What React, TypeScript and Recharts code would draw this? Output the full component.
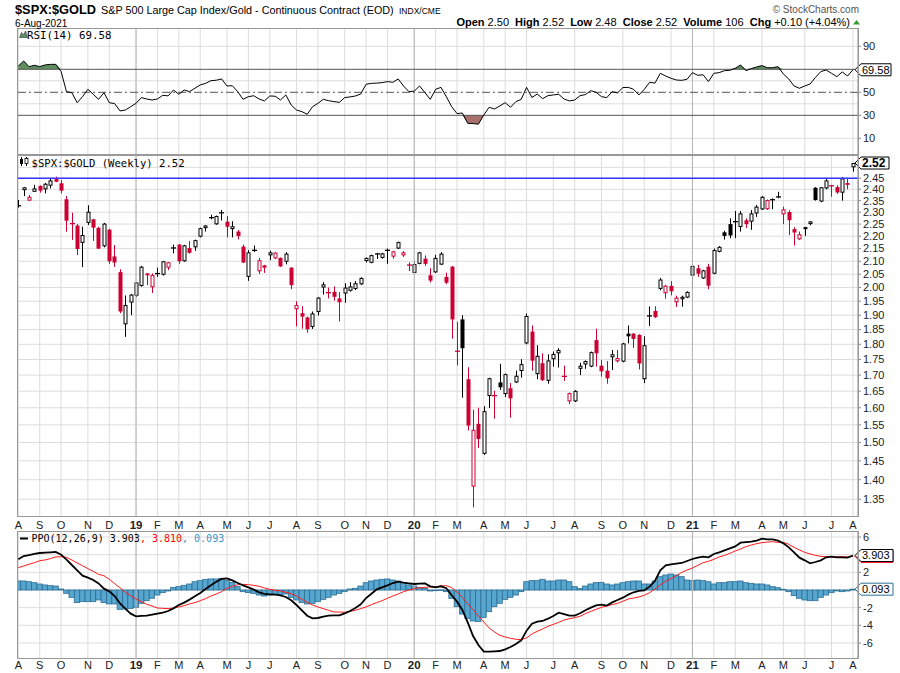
import React from 'react';
import { ComposedChart, Bar, Line, Area, XAxis, YAxis, ReferenceLine, CartesianGrid } from 'recharts';

const FONT = '"Liberation Sans", Arial, sans-serif';
const MONO = '"DejaVu Sans Mono", monospace';

// ---- weekly candles (Aug 2018 - Aug 2021) ----
const OPEN = [
  2.326, 2.396, 2.350, 2.389, 2.415, 2.400, 2.416, 2.446, 2.427, 2.356,
  2.255, 2.244, 2.173, 2.255, 2.270, 2.234, 2.159, 2.227, 2.119, 2.058,
  1.868, 1.945, 1.970, 2.006, 2.046, 2.001, 2.050, 2.048, 2.075, 2.150,
  2.166, 2.100, 2.152, 2.155, 2.198, 2.233, 2.275, 2.249, 2.295, 2.260,
  2.229, 2.219, 2.158, 2.040, 2.140, 2.061, 2.084, 2.123, 2.111, 2.113,
  2.098, 2.075, 1.921, 1.907, 1.892, 1.859, 1.911, 2.000, 1.982, 1.984,
  1.960, 1.978, 1.988, 1.995, 2.012, 2.101, 2.094, 2.131, 2.113, 2.140,
  2.118, 2.150, 2.123, 2.086, 2.055, 2.090, 2.110, 2.046, 2.057, 2.087,
  2.040, 2.079, 1.778, 1.885, 1.687, 1.382, 1.553, 1.469, 1.635, 1.638,
  1.677, 1.641, 1.659, 1.677, 1.713, 1.803, 1.843, 1.703, 1.738, 1.682,
  1.751, 1.770, 1.697, 1.619, 1.619, 1.720, 1.734, 1.727, 1.814, 1.730,
  1.714, 1.757, 1.744, 1.743, 1.836, 1.836, 1.832, 1.687, 1.895, 1.915,
  1.995, 1.979, 2.006, 1.946, 1.957, 1.963, 2.045, 2.073, 2.034, 2.079,
  2.052, 2.137, 2.216, 2.250, 2.258, 2.238, 2.266, 2.260, 2.295, 2.312,
  2.313, 2.353, 2.370, 2.291, 2.301, 2.229, 2.187, 2.229, 2.250, 2.407,
  2.346, 2.404, 2.417, 2.410, 2.385, 2.428, 2.500,
];
const HIGH = [
  2.353, 2.410, 2.375, 2.420, 2.418, 2.428, 2.449, 2.457, 2.442, 2.370,
  2.298, 2.250, 2.239, 2.330, 2.272, 2.239, 2.255, 2.230, 2.164, 2.069,
  1.971, 1.976, 2.020, 2.082, 2.055, 2.053, 2.075, 2.100, 2.097, 2.166,
  2.168, 2.165, 2.180, 2.186, 2.235, 2.246, 2.289, 2.286, 2.310, 2.284,
  2.262, 2.225, 2.166, 2.144, 2.162, 2.113, 2.086, 2.142, 2.136, 2.115,
  2.136, 2.077, 1.950, 1.932, 1.895, 1.913, 1.965, 2.020, 2.000, 2.004,
  1.983, 2.016, 2.020, 2.024, 2.038, 2.115, 2.126, 2.133, 2.133, 2.150,
  2.141, 2.178, 2.140, 2.096, 2.101, 2.137, 2.123, 2.073, 2.125, 2.136,
  2.056, 2.082, 1.877, 1.900, 1.725, 1.594, 1.600, 1.605, 1.692, 1.651,
  1.736, 1.705, 1.675, 1.714, 1.751, 1.906, 1.864, 1.797, 1.770, 1.767,
  1.776, 1.787, 1.730, 1.646, 1.653, 1.739, 1.747, 1.776, 1.853, 1.748,
  1.745, 1.781, 1.781, 1.805, 1.864, 1.838, 1.834, 1.827, 1.931, 1.932,
  2.036, 2.010, 2.024, 1.970, 1.970, 1.986, 2.089, 2.086, 2.067, 2.090,
  2.150, 2.160, 2.222, 2.274, 2.305, 2.305, 2.274, 2.309, 2.331, 2.370,
  2.355, 2.360, 2.389, 2.324, 2.309, 2.237, 2.219, 2.239, 2.263, 2.410,
  2.410, 2.447, 2.420, 2.418, 2.455, 2.447, 2.520,
];
const LOW = [
  2.320, 2.370, 2.350, 2.389, 2.385, 2.382, 2.404, 2.432, 2.382, 2.218,
  2.185, 2.124, 2.077, 2.246, 2.181, 2.148, 2.155, 2.090, 2.078, 1.907,
  1.825, 1.900, 1.965, 2.003, 2.009, 1.980, 2.040, 2.045, 2.066, 2.131,
  2.090, 2.098, 2.130, 2.141, 2.195, 2.219, 2.270, 2.247, 2.265, 2.195,
  2.195, 2.187, 2.093, 2.025, 2.136, 2.051, 2.055, 2.104, 2.109, 2.078,
  2.088, 1.994, 1.861, 1.853, 1.839, 1.852, 1.899, 1.974, 1.960, 1.952,
  1.878, 1.944, 1.985, 1.991, 2.010, 2.095, 2.092, 2.109, 2.110, 2.090,
  2.110, 2.148, 2.117, 2.062, 2.053, 2.088, 2.082, 2.019, 2.055, 2.085,
  2.013, 1.819, 1.731, 1.630, 1.534, 1.330, 1.485, 1.466, 1.599, 1.568,
  1.654, 1.632, 1.571, 1.675, 1.692, 1.800, 1.714, 1.687, 1.682, 1.673,
  1.727, 1.724, 1.682, 1.611, 1.617, 1.700, 1.720, 1.725, 1.727, 1.695,
  1.673, 1.716, 1.740, 1.741, 1.803, 1.788, 1.718, 1.675, 1.862, 1.890,
  1.990, 1.959, 1.971, 1.929, 1.930, 1.961, 1.993, 2.040, 2.032, 1.994,
  2.050, 2.135, 2.186, 2.192, 2.192, 2.219, 2.234, 2.226, 2.280, 2.310,
  2.310, 2.313, 2.360, 2.250, 2.205, 2.162, 2.185, 2.201, 2.245, 2.350,
  2.343, 2.400, 2.367, 2.380, 2.350, 2.400, 2.480,
];
const CLOSE = [
  2.330, 2.409, 2.367, 2.404, 2.394, 2.425, 2.440, 2.434, 2.394, 2.264,
  2.249, 2.148, 2.205, 2.302, 2.235, 2.150, 2.252, 2.100, 2.095, 1.913,
  1.936, 1.974, 2.019, 2.079, 2.053, 2.047, 2.055, 2.100, 2.096, 2.155,
  2.100, 2.163, 2.133, 2.184, 2.233, 2.244, 2.279, 2.284, 2.300, 2.239,
  2.241, 2.201, 2.095, 2.135, 2.146, 2.104, 2.075, 2.135, 2.134, 2.080,
  2.130, 2.009, 1.936, 1.895, 1.851, 1.906, 1.963, 2.012, 1.980, 1.966,
  1.946, 2.000, 2.004, 2.016, 2.036, 2.113, 2.124, 2.126, 2.131, 2.146,
  2.139, 2.176, 2.135, 2.084, 2.089, 2.135, 2.090, 2.026, 2.113, 2.130,
  2.018, 1.885, 1.776, 1.787, 1.548, 1.536, 1.510, 1.590, 1.690, 1.635,
  1.662, 1.703, 1.628, 1.698, 1.735, 1.897, 1.746, 1.762, 1.684, 1.747,
  1.768, 1.781, 1.695, 1.644, 1.651, 1.730, 1.745, 1.774, 1.770, 1.712,
  1.690, 1.767, 1.755, 1.803, 1.827, 1.818, 1.737, 1.797, 1.900, 1.893,
  2.030, 2.007, 1.986, 1.963, 1.966, 1.984, 2.082, 2.052, 2.065, 2.007,
  2.144, 2.157, 2.201, 2.203, 2.262, 2.295, 2.250, 2.295, 2.324, 2.367,
  2.353, 2.355, 2.363, 2.312, 2.266, 2.215, 2.208, 2.237, 2.261, 2.353,
  2.409, 2.440, 2.414, 2.386, 2.449, 2.420, 2.520,
];

// ---- RSI(14) ----
const RSI = [
  72.9, 77.2, 72.3, 73.5, 72.3, 73.8, 74.3, 74.3, 68.0, 50.6,
  49.7, 41.0, 46.2, 52.6, 48.3, 43.9, 49.7, 41.0, 40.2, 33.8,
  34.6, 37.5, 40.4, 45.4, 44.2, 43.3, 44.2, 47.4, 46.9, 52.0,
  48.3, 52.0, 50.6, 53.5, 56.4, 57.8, 60.1, 60.5, 61.6, 55.5,
  55.7, 50.6, 43.9, 46.2, 47.0, 44.2, 42.5, 46.8, 46.6, 43.3,
  47.7, 39.0, 34.6, 33.2, 30.9, 37.5, 40.4, 43.9, 42.7, 41.9,
  41.3, 45.4, 46.0, 46.8, 48.5, 57.0, 57.8, 58.0, 58.4, 59.3,
  58.7, 61.6, 55.5, 50.6, 51.0, 55.5, 49.7, 43.9, 52.6, 54.3,
  46.2, 37.5, 31.5, 32.0, 23.0, 22.8, 22.3, 30.3, 37.0, 35.5,
  38.1, 41.0, 37.0, 41.9, 43.9, 54.3, 45.5, 48.5, 44.5, 47.1,
  47.7, 48.3, 44.2, 42.5, 43.3, 47.1, 48.0, 51.4, 50.0, 46.2,
  45.4, 50.6, 49.5, 54.1, 54.3, 52.6, 47.7, 52.6, 58.7, 58.0,
  66.5, 64.2, 62.2, 60.7, 60.4, 61.3, 67.1, 64.8, 65.2, 59.3,
  66.5, 67.1, 68.8, 69.1, 70.9, 73.8, 68.8, 70.6, 72.0, 73.2,
  71.4, 71.4, 72.3, 65.9, 61.6, 55.5, 53.5, 55.5, 57.2, 63.0,
  68.0, 69.4, 66.5, 63.6, 67.7, 64.2, 69.58,
];

// ---- PPO(12,26,9) ----
const PPO = [
  3.47, 3.85, 3.96, 4.08, 4.19, 4.23, 4.26, 4.30, 4.00, 3.43,
  2.83, 2.23, 1.62, 1.40, 1.13, 0.75, 0.15, -0.15, -0.68, -1.51,
  -2.11, -2.68, -2.98, -2.94, -2.91, -2.79, -2.68, -2.57, -2.38, -2.08,
  -1.70, -1.43, -1.09, -0.72, -0.34, 0.11, 0.53, 0.94, 1.25, 1.32,
  1.09, 0.79, 0.53, 0.30, 0.04, -0.26, -0.45, -0.49, -0.53, -0.60,
  -0.79, -1.17, -1.70, -2.30, -2.91, -3.21, -3.17, -3.02, -2.91, -2.87,
  -2.87, -2.64, -2.38, -2.04, -1.62, -0.91, -0.42, 0.08, 0.30, 0.53,
  0.79, 0.94, 0.83, 0.75, 0.68, 0.72, 0.75, 0.42, 0.30, 0.42,
  0.20, -0.60, -1.32, -2.26, -3.66, -5.21, -6.23, -6.98, -6.98, -6.94,
  -6.91, -6.72, -6.45, -6.11, -5.70, -4.60, -3.81, -3.58, -3.51, -3.25,
  -2.94, -2.57, -2.72, -2.91, -2.91, -2.64, -2.30, -2.00, -1.74, -1.66,
  -1.77, -1.40, -1.13, -0.87, -0.53, -0.26, -0.11, -0.04, 0.38, 1.02,
  2.23, 2.79, 2.91, 2.98, 3.06, 3.28, 3.51, 3.66, 3.77, 3.70,
  4.08, 4.26, 4.49, 4.72, 4.94, 5.36, 5.43, 5.47, 5.58, 5.81,
  5.74, 5.74, 5.58, 5.28, 4.83, 4.26, 3.66, 3.36, 3.02, 3.17,
  3.36, 3.70, 3.77, 3.70, 3.70, 3.66, 3.903,
];
const SIGNAL = [
  2.53, 2.72, 2.91, 3.09, 3.32, 3.40, 3.55, 3.74, 3.77, 3.70,
  3.40, 3.06, 2.75, 2.42, 2.11, 1.77, 1.62, 1.21, 0.72, 0.26,
  -0.26, -0.64, -1.02, -1.32, -1.62, -1.81, -2.04, -2.08, -2.11, -2.04,
  -1.92, -1.77, -1.58, -1.43, -1.21, -0.98, -0.68, -0.45, -0.19, 0.19,
  0.42, 0.60, 0.64, 0.60, 0.53, 0.42, 0.23, 0.08, -0.04, -0.11,
  -0.26, -0.42, -0.68, -1.06, -1.40, -1.70, -1.92, -2.11, -2.30, -2.49,
  -2.49, -2.53, -2.42, -2.30, -2.11, -1.92, -1.66, -1.43, -1.21, -0.94,
  -0.68, -0.45, -0.19, 0.00, 0.15, 0.26, 0.30, 0.34, 0.38, 0.45,
  0.49, 0.27, -0.25, -0.85, -1.55, -2.23, -2.94, -3.62, -4.30, -4.75,
  -5.13, -5.32, -5.47, -5.58, -5.62, -5.43, -4.98, -4.68, -4.42, -4.11,
  -3.89, -3.66, -3.40, -3.25, -3.13, -2.98, -2.68, -2.42, -2.19, -1.96,
  -1.81, -1.66, -1.51, -1.28, -1.02, -0.91, -0.79, -0.60, -0.30, 0.11,
  0.57, 0.98, 1.28, 1.62, 2.00, 2.26, 2.49, 2.79, 3.09, 3.25,
  3.47, 3.74, 3.92, 4.15, 4.42, 4.64, 4.91, 5.09, 5.25, 5.36,
  5.43, 5.47, 5.40, 5.40, 5.17, 4.83, 4.53, 4.26, 4.08, 3.92,
  3.81, 3.77, 3.77, 3.77, 3.77, 3.74, 3.81,
];
const HIST = [
  1.02, 1.02, 0.94, 0.83, 0.68, 0.57, 0.49, 0.45, 0.11, -0.38,
  -0.83, -1.43, -1.32, -1.32, -1.32, -1.13, -1.43, -1.58, -1.58, -2.19,
  -2.15, -2.08, -1.96, -1.51, -1.21, -0.94, -0.57, -0.30, -0.11, 0.30,
  0.38, 0.53, 0.68, 0.94, 1.06, 1.21, 1.25, 1.25, 1.32, 1.06,
  0.83, 0.38, -0.19, -0.30, -0.38, -0.57, -0.68, -0.57, -0.49, -0.49,
  -0.45, -0.83, -1.13, -1.43, -1.58, -1.51, -1.32, -1.06, -0.83, -0.57,
  -0.38, -0.19, 0.11, 0.19, 0.45, 0.83, 1.02, 1.13, 1.21, 1.25,
  1.13, 1.02, 0.83, 0.57, 0.45, 0.30, 0.19, -0.11, -0.08, 0.02,
  -0.19, -0.95, -1.89, -2.72, -3.21, -3.51, -3.58, -3.09, -2.45, -1.89,
  -1.51, -1.06, -0.83, -0.57, -0.19, 0.94, 1.06, 1.06, 1.21, 1.02,
  1.02, 1.13, 1.13, 0.94, 0.38, 0.19, 0.45, 0.68, 0.83, 0.87,
  0.68, 0.57, 0.68, 0.83, 0.94, 1.02, 1.02, 0.68, 0.68, 1.02,
  1.51, 1.70, 1.81, 1.70, 1.51, 1.13, 1.06, 1.13, 1.06, 0.94,
  0.68, 0.83, 0.83, 0.94, 0.94, 1.02, 0.83, 0.75, 0.68, 0.68,
  0.57, 0.38, 0.26, 0.08, -0.19, -0.64, -0.94, -1.13, -1.21, -1.21,
  -0.83, -0.57, -0.30, -0.11, -0.19, -0.11, 0.093,
];

// ---- axis ticks ----
const MONTH_TICK_IDX = [0, 4, 8, 13, 17, 22, 26, 30, 34, 39, 43, 47, 52, 56, 61, 65, 69, 74, 78, 82, 87, 91, 95, 100, 104, 109, 113, 117, 122, 126, 130, 134, 139, 143, 147, 152, 156];
const MONTH_TICK_LABELS = ['A', 'S', 'O', 'N', 'D', '19', 'F', 'M', 'A', 'M', 'J', 'J', 'A', 'S', 'O', 'N', 'D', '20', 'F', 'M', 'A', 'M', 'J', 'J', 'A', 'S', 'O', 'N', 'D', '21', 'F', 'M', 'A', 'M', 'J', 'J', 'A'];
const YEAR_IDX = [22, 74, 126];
const PRICE_TICKS = [1.35, 1.4, 1.45, 1.5, 1.55, 1.6, 1.65, 1.7, 1.75, 1.8, 1.85, 1.9, 1.95, 2.0, 2.05, 2.1, 2.15, 2.2, 2.25, 2.3, 2.35, 2.4, 2.45];
const PRICE_GRID = [1.35, 1.4, 1.45, 1.5, 1.55, 1.6, 1.65, 1.7, 1.75, 1.8, 1.85, 1.9, 1.95, 2.0, 2.05, 2.1, 2.15, 2.2, 2.25, 2.3, 2.35, 2.4, 2.45, 2.5];
const RSI_TICKS = [10, 30, 50, 90];
const RSI_GRID = [10, 40, 60, 90];
const PPO_TICKS = [-6, -4, -2, 2, 6];
const PPO_GRID = [-6, -4, -2, 0, 2, 4, 6];
const RESIST_LEVEL = 2.45;

const X_DOMAIN: [number, number] = [-0.25, 156.95];
const PRICE_DOMAIN: [number, number] = [1.3088, 2.5578];
const RSI_DOMAIN: [number, number] = [-4.5, 105.9];
const PPO_DOMAIN: [number, number] = [-7.7, 6.68];

const rows = OPEN.map((o, i) => ({
  i,
  open: o,
  high: HIGH[i],
  low: LOW[i],
  close: CLOSE[i],
  prev: i > 0 ? CLOSE[i - 1] : o,
  range: [LOW[i], HIGH[i]],
  rsi: RSI[i],
  ppo: PPO[i],
  sig: SIGNAL[i],
  hist: HIST[i],
}));

const RED = '#cc0033';

const Candle = (props: any) => {
  const { x, y, width, height, payload } = props;
  if (!payload || !isFinite(y) || !isFinite(height)) return null;
  const cx = Math.round(x + width / 2) + 0.5;
  const { open, close, high, low, prev } = payload;
  const lh = Math.log(high);
  const span = lh - Math.log(low) || 1;
  const py = (p: number) => y + (height * (lh - Math.log(p))) / span;
  const color = close >= prev ? '#000' : RED;
  const hollow = close >= open;
  const yTop = py(Math.max(open, close));
  const yBot = py(Math.min(open, close));
  const bh = yBot - yTop;
  let body;
  if (bh < 1.6) {
    body = <line x1={cx - 2.5} x2={cx + 2.5} y1={(yTop + yBot) / 2} y2={(yTop + yBot) / 2} stroke={color} strokeWidth={1.3} />;
  } else if (hollow) {
    body = <rect x={cx - 1.5} y={yTop + 0.5} width={3} height={bh - 1} fill="#fff" stroke={color} strokeWidth={1} />;
  } else {
    body = <rect x={cx - 2} y={yTop} width={4} height={bh} fill={color} />;
  }
  return (
    <g>
      <line x1={cx} x2={cx} y1={y} y2={y + height} stroke={color} strokeWidth={1} />
      {body}
    </g>
  );
};

const HistBar = (props: any) => {
  const { x, y, width, height } = props;
  if (!isFinite(y) || !isFinite(height)) return null;
  const cx = x + width / 2;
  const top = height < 0 ? y + height : y;
  const h = Math.max(Math.abs(height), 0.6);
  return <rect x={cx - 2.675} y={top} width={5.35} height={h} fill="#56a6d0" stroke="#2c6e94" strokeWidth={0.8} />;
};

const ValueTag = (props: any) => {
  const { viewBox, text, border = '#000', color = '#000', bold = false, w = 36 } = props;
  if (!viewBox) return null;
  const x0 = viewBox.x + viewBox.width - 3;
  const y = viewBox.y;
  const h = 12;
  const d = `M${x0},${y} L${x0 + 6},${y - h / 2} L${x0 + w},${y - h / 2} L${x0 + w},${y + h / 2} L${x0 + 6},${y + h / 2} Z`;
  return (
    <g>
      <path d={d} fill="#fff" stroke={border} strokeWidth={1} />
      <text x={x0 + 7} y={y} dy="0.36em" fontSize={bold ? 12 : 11} fontWeight={bold ? 700 : 400} fontFamily={FONT} fill={color}>
        {text}
      </text>
    </g>
  );
};

const MonthTick = (props: any) => {
  const { x, y, payload, off } = props;
  const k = MONTH_TICK_IDX.indexOf(payload.value);
  const label = k >= 0 ? MONTH_TICK_LABELS[k] : '';
  const isYear = /\d/.test(label);
  return (
    <text x={x} y={y + off} textAnchor="middle" fontSize={isYear ? 11.5 : 11} fontWeight={isYear ? 700 : 400} fontFamily={FONT} fill="#222">
      {label}
    </text>
  );
};

const yTick = { fontSize: 11, fill: '#222', fontFamily: FONT };
const MARGIN = { top: 0, right: 0, bottom: 0, left: 17 };

export default function App() {
  return (
    <div style={{ position: 'absolute', left: 0, top: 0, width: 900, height: 673, background: '#fff', overflow: 'hidden' }}>
      {/* RSI panel */}
      <div style={{ position: 'absolute', left: 0, top: 28 }}>
        <ComposedChart width={900} height={127} data={rows} margin={MARGIN}>
          <CartesianGrid stroke="#dcdcdc" horizontalValues={RSI_GRID} verticalValues={MONTH_TICK_IDX} />
          <XAxis type="number" dataKey="i" domain={X_DOMAIN} allowDataOverflow hide />
          <YAxis orientation="right" width={42} domain={RSI_DOMAIN} allowDataOverflow ticks={RSI_TICKS} interval={0}
            axisLine={{ stroke: '#888' }} tickLine={{ stroke: '#888' }} tickSize={3} tickMargin={2} tick={yTick} />
          {YEAR_IDX.map((v) => <ReferenceLine key={v} x={v} stroke="#b4b4b4" />)}
          <Area dataKey={(d: any) => Math.max(d.rsi, 70)} baseValue={70} stroke="none" fill="#5f8f5f" fillOpacity={1} isAnimationActive={false} />
          <Area dataKey={(d: any) => Math.min(d.rsi, 30)} baseValue={30} stroke="none" fill="#a8706a" fillOpacity={1} isAnimationActive={false} />
          <ReferenceLine y={70} stroke="#555" />
          <ReferenceLine y={30} stroke="#555" />
          <ReferenceLine y={50} stroke="#555" strokeDasharray="8 3 2 3" />
          <Line dataKey="rsi" stroke="#000" strokeWidth={1} dot={false} isAnimationActive={false} />
          <ReferenceLine y={69.58} stroke="none" label={<ValueTag text="69.58" />} />
        </ComposedChart>
      </div>

      {/* Price panel */}
      <div style={{ position: 'absolute', left: 0, top: 155 }}>
        <ComposedChart width={900} height={379} data={rows} margin={{ top: 0, right: 0, bottom: 4, left: 17 }}>
          <CartesianGrid stroke="#dcdcdc" horizontalValues={PRICE_GRID} verticalValues={MONTH_TICK_IDX} />
          <XAxis type="number" dataKey="i" domain={X_DOMAIN} allowDataOverflow ticks={MONTH_TICK_IDX} interval={0} height={14}
            axisLine={false} tickLine={false} tickSize={0} tickMargin={0} tick={(p: any) => <MonthTick {...p} off={13} />} />
          <YAxis orientation="right" width={42} scale="log" domain={PRICE_DOMAIN} allowDataOverflow ticks={PRICE_TICKS} interval={0}
            axisLine={{ stroke: '#888' }} tickLine={{ stroke: '#888' }} tickSize={3} tickMargin={2} tick={yTick}
            tickFormatter={(v: number) => v.toFixed(2)} />
          {YEAR_IDX.map((v) => <ReferenceLine key={v} x={v} stroke="#b4b4b4" />)}
          <ReferenceLine y={RESIST_LEVEL} stroke="#3535ff" strokeWidth={1.5} />
          <Bar dataKey="range" barSize={5} shape={(p: any) => <Candle {...p} />} isAnimationActive={false} />
          <ReferenceLine y={2.52} stroke="none" label={<ValueTag text="2.52" bold w={34} />} />
        </ComposedChart>
      </div>

      {/* PPO panel */}
      <div style={{ position: 'absolute', left: 0, top: 531 }}>
        <ComposedChart width={900} height={142} data={rows} margin={MARGIN}>
          <CartesianGrid stroke="#dcdcdc" horizontalValues={PPO_GRID} verticalValues={MONTH_TICK_IDX} />
          <XAxis type="number" dataKey="i" domain={X_DOMAIN} allowDataOverflow ticks={MONTH_TICK_IDX} interval={0} height={15}
            axisLine={false} tickLine={false} tickSize={0} tickMargin={0} tick={(p: any) => <MonthTick {...p} off={10.5} />} />
          <YAxis orientation="right" width={42} domain={PPO_DOMAIN} allowDataOverflow ticks={PPO_TICKS} interval={0}
            axisLine={{ stroke: '#888' }} tickLine={{ stroke: '#888' }} tickSize={3} tickMargin={2} tick={yTick} />
          {YEAR_IDX.map((v) => <ReferenceLine key={v} x={v} stroke="#b4b4b4" />)}
          <Bar dataKey="hist" barSize={5} shape={(p: any) => <HistBar {...p} />} isAnimationActive={false} />
          <Line dataKey="sig" stroke="#ff1a1a" strokeWidth={1} dot={false} isAnimationActive={false} />
          <Line dataKey="ppo" stroke="#000" strokeWidth={1.8} dot={false} isAnimationActive={false} />
          <ReferenceLine y={3.81} stroke="none" label={<ValueTag text="3.810" border="#ff0000" color="#ff0000" w={38} />} />
          <ReferenceLine y={3.903} stroke="none" label={<ValueTag text="3.903" w={38} />} />
          <ReferenceLine y={0.093} stroke="none" label={<ValueTag text="0.093" border="#2c6e94" w={38} />} />
        </ComposedChart>
      </div>

      {/* Headers, legends and panel frames */}
      <svg width={900} height={673} style={{ position: 'absolute', left: 0, top: 0, pointerEvents: 'none' }}>
        <rect x={17.5} y={28.5} width={841} height={126} fill="none" stroke="#999" />
        <rect x={17.5} y={155.5} width={841} height={361} fill="none" stroke="#999" />
        <rect x={17.5} y={531.5} width={841} height={127} fill="none" stroke="#999" />

        <text x={15} y={14} fontFamily={FONT} fontSize={12.8} fontWeight={700} fill="#000">$SPX:$GOLD</text>
        <text x={101} y={14} fontFamily={FONT} fontSize={10.8} fill="#000">S&amp;P 500 Large Cap Index/Gold - Continuous Contract (EOD)</text>
        <text x={399} y={14} fontFamily={FONT} fontSize={8.5} fill="#000">INDX/CME</text>
        <text x={15} y={27} fontFamily={FONT} fontSize={10} fill="#000">6-Aug-2021</text>
        <text x={859} y={12.5} textAnchor="end" fontFamily={FONT} fontSize={10} fill="#555">© StockCharts.com</text>
        <text x={850} y={26} textAnchor="end" fontFamily={FONT} fontSize={11} fill="#000" style={{ whiteSpace: 'pre' }}>
          <tspan fontWeight={700}>Open</tspan><tspan>{' 2.50  '}</tspan>
          <tspan fontWeight={700}>High</tspan><tspan>{' 2.52  '}</tspan>
          <tspan fontWeight={700}>Low</tspan><tspan>{' 2.48  '}</tspan>
          <tspan fontWeight={700}>Close</tspan><tspan>{' 2.52  '}</tspan>
          <tspan fontWeight={700}>Volume</tspan><tspan>{' 106  '}</tspan>
          <tspan fontWeight={700}>Chg</tspan><tspan>{' +0.10 (+4.04%)'}</tspan>
        </text>
        <polygon points="853,24.5 860,24.5 856.5,20" fill="#2e9a2e" />

        {/* RSI legend */}
        <polygon points="19.5,37.5 21.5,32.5 23.5,35 25.5,31 27.5,37.5" fill="#5f8f5f" stroke="#333" strokeWidth={0.6} />
        <text x={27} y={38.5} fontFamily={MONO} fontSize={10.8} fill="#000">RSI(14) 69.58</text>

        {/* Price legend */}
        <line x1={21.5} x2={21.5} y1={157} y2={166} stroke="#000" />
        <rect x={20} y={159} width={3} height={5} fill="#000" />
        <line x1={26.5} x2={26.5} y1={157} y2={166} stroke="#000" />
        <rect x={25} y={158.5} width={3} height={5} fill="#fff" stroke="#000" strokeWidth={0.8} />
        <text x={31.5} y={166.5} fontFamily={MONO} fontSize={10.6} fill="#000">$SPX:$GOLD (Weekly) 2.52</text>

        {/* PPO legend */}
        <line x1={20} x2={28} y1={538.5} y2={538.5} stroke="#000" strokeWidth={2} />
        <text x={31.5} y={542} fontFamily={MONO} fontSize={10} style={{ whiteSpace: 'pre' }}>
          <tspan fill="#000">PPO(12,26,9) 3.903</tspan>
          <tspan fill="#ff0000">, 3.810</tspan>
          <tspan fill="#3399cc">, 0.093</tspan>
        </text>
      </svg>
    </div>
  );
}
